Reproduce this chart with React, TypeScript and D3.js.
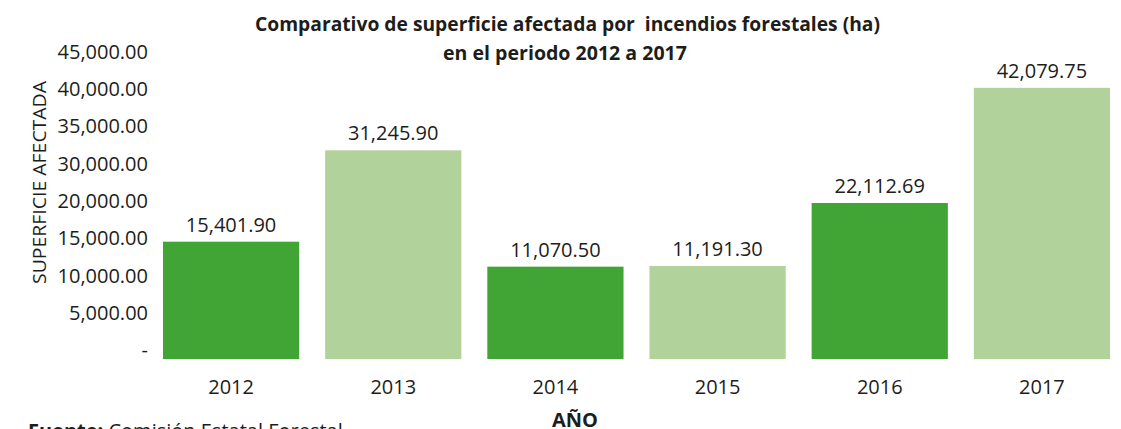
import React from "react";
import * as d3 from "d3";

const years: string[] = ["2012", "2013", "2014", "2015", "2016", "2017"];
const values: number[] = [15401.9, 31245.9, 11070.5, 11191.3, 22112.69, 42079.75];
const yTickLabels: string[] = [
  "-",
  "5,000.00",
  "10,000.00",
  "15,000.00",
  "20,000.00",
  "30,000.00",
  "35,000.00",
  "40,000.00",
  "45,000.00",
];
const titleLines: string[] = [
  "Comparativo de superficie afectada por  incendios forestales (ha)",
  "en el periodo 2012 a 2017",
];
const yAxisTitle = "SUPERFICIE AFECTADA";
const xAxisTitle = "AÑO";
const sourceLabel = "Fuente:";
const sourceText = " Comisión Estatal Forestal";

const W = 1121;
const H = 429;
const DARK = "#40a535";
const LIGHT = "#b2d29c";
const TEXT = "#1d1d1b";
const FONT = "'Open Sans', 'Noto Sans', sans-serif";

export default function App() {
  const x = d3
    .scaleBand<string>()
    .domain(years)
    .range([150, 1123])
    .paddingInner(0.16)
    .paddingOuter(0.08);
  const y = d3.scaleLinear().domain([0, 45000]).range([330.5, 71]);
  const plotBottom = 359;
  const yTick = d3.scalePoint<string>().domain(yTickLabels).range([350, 51.7]);
  const fmt = d3.format(",.2f");

  return (
    <svg
      width={W}
      height={H}
      style={{ position: "absolute", left: 0, top: 0, background: "#fff" }}
      fontFamily={FONT}
    >
      <rect x={0} y={0} width={W} height={H} fill="#fff" />
      {titleLines.map((t, i) => (
        <text
          key={t}
          x={i === 0 ? 567.5 : 565}
          y={i === 0 ? 30.5 : 59.5}
          textAnchor="middle"
          fontSize={20}
          fontWeight="bold"
          fill={TEXT}
          style={{ whiteSpace: "pre" }}
          textLength={i === 0 ? 625 : 244}
          lengthAdjust="spacingAndGlyphs"
        >
          {t}
        </text>
      ))}
      {yTickLabels.map((t) => (
        <text
          key={t}
          x={148}
          y={yTick(t)}
          dy="0.36em"
          textAnchor="end"
          fontSize={20}
          fill={TEXT}
        >
          {t}
        </text>
      ))}
      <text
        transform={`translate(45.5, 182.5) rotate(-90)`}
        textAnchor="middle"
        fontSize={19}
        fill={TEXT}
        textLength={203}
        lengthAdjust="spacingAndGlyphs"
      >
        {yAxisTitle}
      </text>
      {years.map((yr, i) => {
        const v = values[i];
        const top = y(v);
        const cx = (x(yr) as number) + x.bandwidth() / 2;
        return (
          <g key={yr}>
            <rect
              x={x(yr)}
              y={top}
              width={x.bandwidth()}
              height={plotBottom - top}
              fill={i % 2 === 0 ? DARK : LIGHT}
            />
            <text x={cx} y={top - 10} textAnchor="middle" fontSize={20} fill={TEXT}>
              {fmt(v)}
            </text>
            <text x={cx} y={394} textAnchor="middle" fontSize={20} fill={TEXT}>
              {yr}
            </text>
          </g>
        );
      })}
      <text x={575} y={427} textAnchor="middle" fontSize={20} fontWeight="bold" fill={TEXT}>
        {xAxisTitle}
      </text>
      <text x={28} y={437.5} fontSize={20} fill={TEXT} style={{ whiteSpace: "pre" }}>
        <tspan fontWeight="bold">{sourceLabel}</tspan>
        <tspan>{sourceText}</tspan>
      </text>
    </svg>
  );
}
